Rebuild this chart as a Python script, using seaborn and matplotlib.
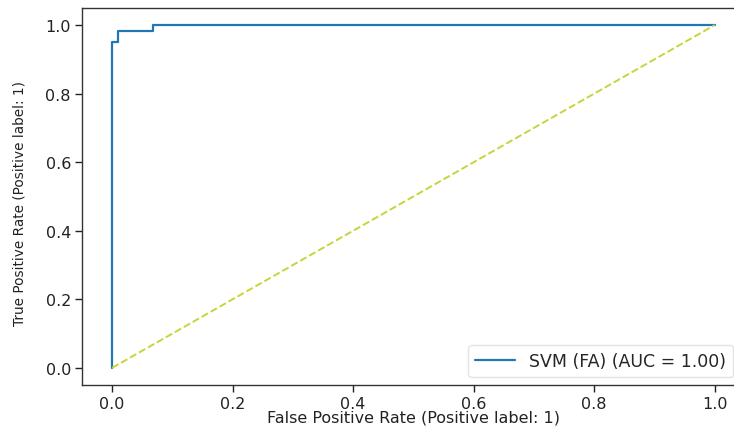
"""ROC curve for the SVM (FA) classifier."""

import matplotlib
matplotlib.use("Agg")
import matplotlib.pyplot as plt
import pandas as pd
import seaborn as sns

# ROC points
fpr = [0.0, 0.0, 0.0105, 0.0105, 0.0675, 0.0675, 1.0]
tpr = [0.0, 0.951, 0.951, 0.982, 0.982, 1.0, 1.0]
chance_x = [0.0, 1.0]
chance_y = [0.0, 1.0]
curve_label = "SVM (FA) (AUC = 1.00)"
x_ticks = [0.0, 0.2, 0.4, 0.6, 0.8, 1.0]
y_ticks = [0.0, 0.2, 0.4, 0.6, 0.8, 1.0]

sns.set_theme(style="ticks")
plt.rcParams["font.family"] = ["DejaVu Sans"]

roc_df = pd.DataFrame({"fpr": fpr, "tpr": tpr})
chance_df = pd.DataFrame({"fpr": chance_x, "tpr": chance_y})

fig = plt.figure(figsize=(7.34, 4.27), dpi=100)
ax = fig.add_axes([0.1117, 0.096, 0.903, 0.883])

sns.lineplot(data=roc_df, x="fpr", y="tpr", sort=False, estimator=None,
             color="#1f77b4", linewidth=1.6, label=curve_label, ax=ax)
sns.lineplot(data=chance_df, x="fpr", y="tpr", sort=False, estimator=None,
             color="#c8d43a", linewidth=1.4, linestyle="--", ax=ax)

ax.set_xlim(-0.05, 1.05)
ax.set_ylim(-0.05, 1.05)
ax.set_xticks(x_ticks)
ax.set_yticks(y_ticks)
ax.tick_params(labelsize=11.5, length=5, width=1, pad=3, colors="#222222")
for side in ["left", "bottom", "top"]:
    ax.spines[side].set_color("#333333")
    ax.spines[side].set_linewidth(1.0)
ax.spines["right"].set_visible(False)

ax.set_xlabel("False Positive Rate (Positive label: 1)", fontsize=11.5, color="#222222")
ax.xaxis.label.set_va("bottom")
ax.xaxis.set_label_coords(0.5, -0.106)
ax.set_ylabel("True Positive Rate (Positive label: 1)", fontsize=9.8, color="#222222")
ax.yaxis.set_label_coords(-0.083, 0.485)

ax.legend(loc="lower right", bbox_to_anchor=(733 / 734, 49 / 427),
          bbox_transform=fig.transFigure, borderaxespad=0, fontsize=12.5,
          frameon=True, handlelength=2.3, edgecolor="#dddddd")

fig.savefig("out.png", dpi=100)
plt.close(fig)
